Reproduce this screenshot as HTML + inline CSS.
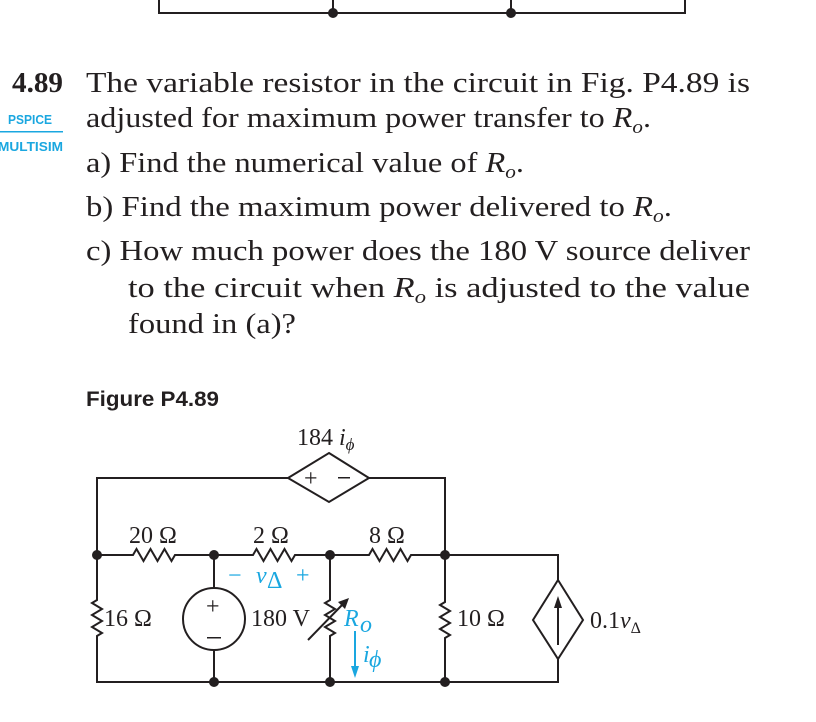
<!DOCTYPE html>
<html><head><meta charset="utf-8"><style>
html,body{margin:0;padding:0;background:#fff;}
svg{display:block;}
.t{font-family:"Liberation Serif",serif;font-size:29px;fill:#231f20;}
.c{font-family:"Liberation Serif",serif;font-size:24px;fill:#231f20;}
.b{fill:#1aa7e0;}
</style></head><body>
<svg width="816" height="722" viewBox="0 0 816 722" xmlns="http://www.w3.org/2000/svg">
<g stroke="#231f20" stroke-width="2" fill="none">
<path d="M159 0V13H685V0M333 0V13M511 0V13"/>
</g>
<circle cx="333" cy="13" r="5" fill="#231f20"/><circle cx="511" cy="13" r="5" fill="#231f20"/>

<text x="12" y="92" class="t" font-weight="bold" textLength="51" lengthAdjust="spacingAndGlyphs">4.89</text>
<text x="86" y="92" class="t" textLength="664" lengthAdjust="spacingAndGlyphs">The variable resistor in the circuit in Fig. P4.89 is</text>
<text x="86" y="127" class="t" textLength="565" lengthAdjust="spacingAndGlyphs">adjusted for maximum power transfer to <tspan font-style="italic">R</tspan><tspan font-style="italic" font-size="19" dy="6">o</tspan><tspan dy="-6">.</tspan></text>
<text x="8" y="124" font-family="Liberation Sans,sans-serif" font-weight="bold" font-size="13" fill="#1aa7e0" textLength="44" lengthAdjust="spacingAndGlyphs">PSPICE</text>
<rect x="0" y="131" width="63" height="1.5" fill="#1aa7e0"/>
<text x="-2" y="151" font-family="Liberation Sans,sans-serif" font-weight="bold" font-size="13" fill="#1aa7e0" textLength="65" lengthAdjust="spacingAndGlyphs">MULTISIM</text>

<text x="86" y="172" class="t" textLength="438" lengthAdjust="spacingAndGlyphs">a)  Find the numerical value of <tspan font-style="italic">R</tspan><tspan font-style="italic" font-size="19" dy="6">o</tspan><tspan dy="-6">.</tspan></text>
<text x="86" y="216" class="t" textLength="586" lengthAdjust="spacingAndGlyphs">b)  Find the maximum power delivered to <tspan font-style="italic">R</tspan><tspan font-style="italic" font-size="19" dy="6">o</tspan><tspan dy="-6">.</tspan></text>
<text x="86" y="260" class="t" textLength="664" lengthAdjust="spacingAndGlyphs">c)  How much power does the 180 V source deliver</text>
<text x="128" y="297" class="t" textLength="622" lengthAdjust="spacingAndGlyphs">to the circuit when <tspan font-style="italic">R</tspan><tspan font-style="italic" font-size="19" dy="6">o</tspan><tspan dy="-6"> is adjusted to the value</tspan></text>
<text x="128" y="333" class="t" textLength="168" lengthAdjust="spacingAndGlyphs">found in (a)?</text>
<text x="86" y="406" font-family="Liberation Sans,sans-serif" font-weight="bold" font-size="21" fill="#231f20" textLength="133" lengthAdjust="spacingAndGlyphs">Figure P4.89</text>

<g stroke="#231f20" stroke-width="2" fill="none">
<path d="M288 478H97V555H133l3.5-6 7 12 7-12 7 12 7-12 7 12 3.5-6H214H253l3.5-6 7 12 7-12 7 12 7-12 7 12 3.5-6H330H369l3.5-6 7 12 7-12 7 12 7-12 7 12 3.5-6H445H558V580"/>
<path d="M369 478H445V555"/>
<path d="M329 453L369 478L329 502L288 478Z"/>
<path d="M97 555V600l-5 3 10 6-10 6 10 6-10 6 10 6-5 3V682H558V659"/>
<path d="M214 555V588M214 650V682"/>
<circle cx="214" cy="619" r="31"/>
<path d="M330 555V600l-5 3 10 6-10 6 10 6-10 6 10 6-5 3V682"/>
<path d="M445 555V602l-5 3 10 6-10 6 10 6-10 6 10 6-5 3V682"/>
<path d="M558 580L583 620L558 659L533 620Z"/>
<path d="M558 645V602"/>
<path d="M308 640L343 604"/>
</g>
<path d="M558 596l-4 12h8z" fill="#231f20"/>
<path d="M349 598l-11 4 7 7z" fill="#231f20"/>
<g fill="#231f20">
<circle cx="97" cy="555" r="5"/><circle cx="214" cy="555" r="5"/><circle cx="330" cy="555" r="5"/><circle cx="445" cy="555" r="5"/>
<circle cx="214" cy="682" r="5"/><circle cx="330" cy="682" r="5"/><circle cx="445" cy="682" r="5"/>
</g>
<text x="304" y="486" class="c" font-size="22">+</text>
<rect x="338" y="477" width="12" height="1.5" fill="#231f20"/>
<text x="206" y="614" class="c" font-size="22">+</text>
<rect x="207" y="637" width="14" height="1.5" fill="#231f20"/>
<text x="297" y="445" class="c">184 <tspan font-style="italic">i</tspan><tspan font-style="italic" font-size="17" dy="5">ϕ</tspan></text>
<text x="129" y="543" class="c">20 Ω</text>
<text x="253" y="543" class="c">2 Ω</text>
<text x="369" y="543" class="c">8 Ω</text>
<text x="104" y="626" class="c">16 Ω</text>
<text x="251" y="626" class="c">180 V</text>
<text x="457" y="626" class="c">10 Ω</text>
<text x="590" y="628" class="c">0.1<tspan font-style="italic">v</tspan><tspan font-size="16" dy="5">Δ</tspan></text>
<g class="b">
<text x="228" y="583" class="c b">−</text>
<text x="256" y="583" class="c b" font-style="italic">v</text>
<text x="267" y="588" class="c b" font-size="16">Δ</text>
<text x="296" y="583" class="c b">+</text>
<text x="344" y="626" class="c b" font-style="italic">R</text>
<text x="360" y="632" class="c b" font-style="italic" font-size="18">o</text>
<text x="363" y="662" class="c b" font-style="italic">i</text>
<text x="369" y="667" class="c b" font-style="italic" font-size="17">ϕ</text>
</g>
<path d="M355 631V668" stroke="#1aa7e0" stroke-width="2"/>
<path d="M355 678l-4-12h8z" fill="#1aa7e0"/>
</svg>
</body></html>
